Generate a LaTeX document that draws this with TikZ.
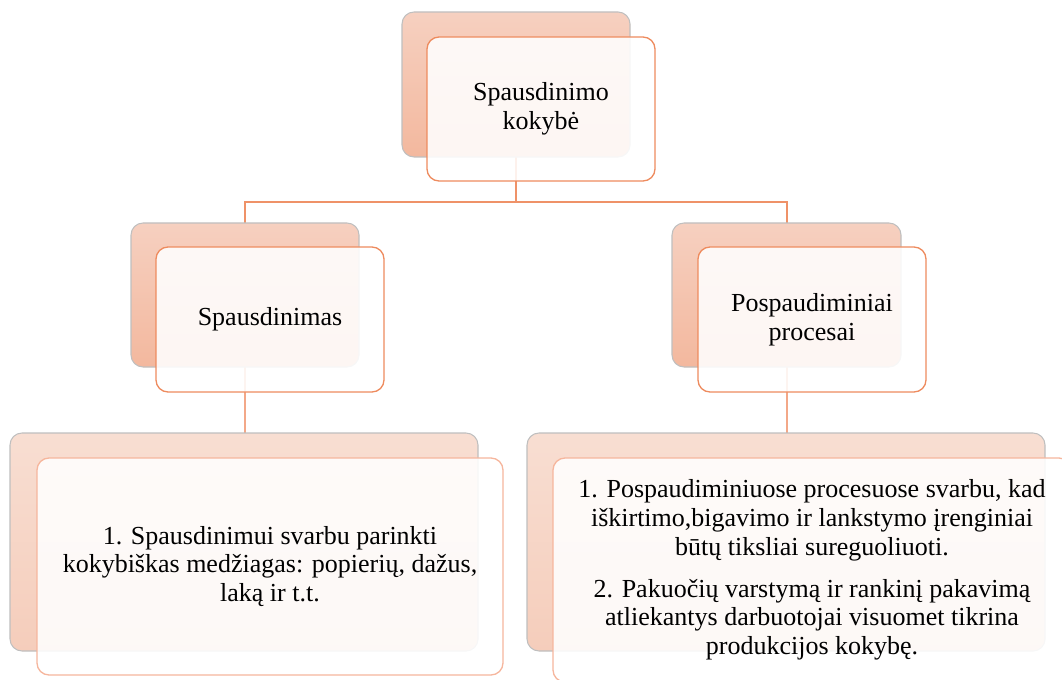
\documentclass[tikz,border=0pt]{standalone}
\usepackage{fontspec}
\setmainfont{Liberation Serif}

\definecolor{linkor}{RGB}{239,146,104}
\definecolor{linklt}{RGB}{243,168,136}
\definecolor{edgeor}{RGB}{238,139,94}
\definecolor{edgelt}{RGB}{246,182,157}
\definecolor{backtop}{RGB}{246,208,192}
\definecolor{backbot}{RGB}{243,184,158}
\definecolor{lowtop}{RGB}{248,222,210}
\definecolor{lowbot}{RGB}{245,205,187}

\tikzset{
  backbox/.style={draw=black!25, line width=0.8pt, rounded corners=9pt, inner sep=0pt,
    top color=backtop, bottom color=backbot},
  lowback/.style={backbox, top color=lowtop, bottom color=lowbot},
  frontbox/.style={draw=edgeor, line width=1pt, rounded corners=9pt, inner sep=0pt,
    fill=white, fill opacity=0.88, text opacity=1, align=center,
    font=\fontsize{19.5}{21.5}\selectfont},
  lowfront/.style={frontbox, draw=edgelt},
  link/.style={draw=linkor, line width=1.9pt},
  lowlink/.style={draw=linklt, line width=1.9pt}
}

\begin{document}
\begin{tikzpicture}[x=0.75pt,y=0.75pt,yscale=-1,xscale=1]
\useasboundingbox (0,0) rectangle (1062,680);

% connectors
\coordinate (split) at (516,202);
\coordinate (topfoot) at (516,157);
\coordinate (lefthead) at (245,223);
\coordinate (righthead) at (787,223);
\draw [link] (topfoot) -- (split);
\draw [link] (split) -| (lefthead);
\draw [link] (split) -| (righthead);
\draw [lowlink] (245,367) coordinate (leftfoot) -- (245,433) coordinate (blefthead);
\draw [lowlink] (787,367) coordinate (rightfoot) -- (787,433) coordinate (brighthead);

% top level
\node [backbox, minimum width=171pt, minimum height=108.75pt] (topback) at (516,84.5) {};
\node [frontbox, minimum width=171pt, minimum height=108pt] (topfront) at (541,109) {Spausdinimo\\kokybė};

% middle level
\node [backbox, minimum width=171pt, minimum height=108pt] (leftback) at (245,295) {};
\node [frontbox, minimum width=171pt, minimum height=108.75pt] (leftfront) at (270,319.5) {Spausdinimas};

\node [backbox, minimum width=171.75pt, minimum height=108pt] (rightback) at (786.5,295) {};
\node [frontbox, minimum width=171pt, minimum height=108.75pt] (rightfront) at (812,319.5) {Pospaudiminiai\\procesai};

% bottom level
\node [lowback, minimum width=351pt, minimum height=163.5pt] (bleftback) at (244,542) {};
\node [lowfront, minimum width=349.5pt, minimum height=162.75pt] (bleftfront) at (270,566.5)
  {1. Spausdinimui svarbu parinkti\\kokybiškas medžiagas: popierių, dažus,\\laką ir t.t.};

\node [lowback, minimum width=388.5pt, minimum height=163.5pt] (brightback) at (786,542) {};
\node [lowfront, minimum width=388.5pt, minimum height=168pt] (brightfront) at (812,570)
  {1. Pospaudiminiuose procesuose svarbu, kad\\iškirtimo,bigavimo ir lankstymo įrenginiai\\būtų tiksliai sureguoliuoti.\\[10pt]2. Pakuočių varstymą ir rankinį pakavimą\\atliekantys darbuotojai visuomet tikrina\\produkcijos kokybę.};

\end{tikzpicture}
\end{document}
